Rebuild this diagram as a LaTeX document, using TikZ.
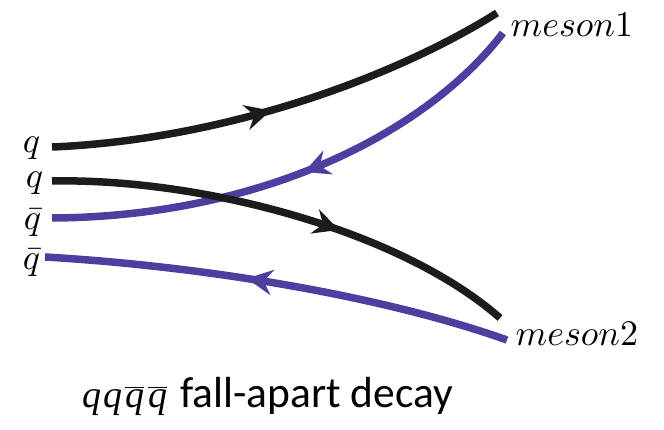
\documentclass[tikz,border=0pt]{standalone}
\usepackage{fontspec}
\newfontfamily\capfont{Carlito}
\newfontfamily\capserif{Liberation Serif}
\usetikzlibrary{decorations.markings}
\definecolor{qpurple}{RGB}{78,62,160}
\definecolor{qblack}{RGB}{28,28,28}
\tikzset{
  quark/.style={line width=7.5pt, draw=#1, line cap=butt},
  midarrow/.style={postaction={decorate}, decoration={markings,
     mark=at position #1 with {\fill[qarrowcol] (4pt,0pt) -- (-22pt,13pt) -- (-13pt,0pt) -- (-22pt,-13pt) -- cycle;}}},
  lbl/.style={inner sep=0pt, scale=3.6, transform shape, text depth=0pt, text height=1.2ex},
  caption/.style={inner sep=0pt, anchor=base west}
}
\begin{document}
\begin{tikzpicture}[x=1pt,y=-1pt]
\useasboundingbox (0,0) rectangle (664,430);
% labels
\node[lbl, anchor=base east] (lq1) at (41,153) {$q$};
\node[lbl, anchor=base east] (lq2) at (44,188) {$q$};
\node[lbl, anchor=base east] (lqb1) at (42,230) {$\bar q$};
\node[lbl, anchor=base east] (lqb2) at (41,270) {$\bar q$};
\node[lbl, anchor=base west] (m1) at (510,37) {$meson1$};
\node[lbl, anchor=base west] (m2) at (515,345) {$meson2$};
% endpoints
\coordinate (a0) at (52,147);
\coordinate (a1) at (497,13);
\coordinate (b0) at (503,33);
\coordinate (b1) at (52,218);
\coordinate (c0) at (52,181);
\coordinate (c1) at (500,318);
\coordinate (d0) at (507,340);
\coordinate (d1) at (45,257);
% lines
\colorlet{qarrowcol}{qblack}
\draw[quark=qblack, midarrow=0.465] (a0) .. controls (220,140) and (390,80) .. (a1);
\colorlet{qarrowcol}{qpurple}
\draw[quark=qpurple, midarrow=0.48] (b0) .. controls (420,140) and (250,217) .. (b1);
\colorlet{qarrowcol}{qblack}
\draw[quark=qblack, midarrow=0.605] (c0) .. controls (200,178) and (400,230) .. (c1);
\colorlet{qarrowcol}{qpurple}
\draw[quark=qpurple, midarrow=0.56] (d0) .. controls (380,295) and (200,266) .. (d1);
% caption
\node[caption] (capm) at (82,407) {\fontsize{38}{44}\selectfont\capserif\itshape q\kern2pt q\kern3pt$\overline{\hbox{\capserif\itshape q}}$\kern4pt$\overline{\hbox{\capserif\itshape q}}$};
\node[caption] (capt) at (180,407) {\fontsize{43.5}{48}\selectfont\capfont fall-apart decay};
\end{tikzpicture}
\end{document}
